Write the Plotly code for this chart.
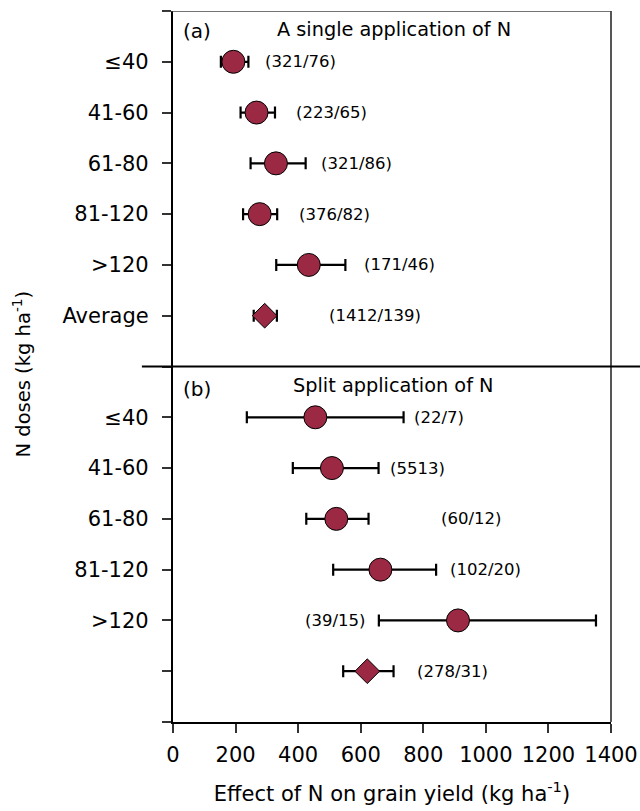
import plotly.graph_objects as go

# ---- data ----
categories = ['≤40', '41-60', '61-80', '81-120', '>120', 'Average']
bottom_tick_labels = ['≤40', '41-60', '61-80', '81-120', '>120', ' ']

single_mean = [193, 267, 329, 277, 434, 293]
single_low = [153, 216, 248, 224, 330, 258]
single_high = [241, 326, 424, 333, 551, 332]
single_n = ['(321/76)', '(223/65)', '(321/86)', '(376/82)', '(171/46)', '(1412/139)']
single_label_x = [287, 387, 467, 397, 605, 491]

split_mean = [455, 508, 522, 663, 911, 621]
split_low = [236, 383, 426, 512, 658, 544]
split_high = [737, 657, 625, 841, 1352, 705]
split_n = ['(22/7)', '(5513)', '(60/12)', '(102/20)', '(39/15)', '(278/31)']
split_label_x = [765, 688, 849, 878, 414, 774]

x_ticks = [0, 200, 400, 600, 800, 1000, 1200, 1400]

COLOR = '#9b2944'
FONT = 'DejaVu Sans'

top_rows = [i + 1 for i in range(len(categories))]
bot_rows = [i + 8 for i in range(len(categories))]
symbols = ['circle'] * 5 + ['diamond']
sizes = [23] * 5 + [19]

fig = go.Figure()


def add_panel(rows, mean, low, high):
    plus = [h - m for h, m in zip(high, mean)]
    minus = [m - l for m, l in zip(mean, low)]
    fig.add_trace(go.Scatter(
        x=mean, y=rows, mode='markers',
        marker=dict(color=COLOR, size=sizes, symbol=symbols, opacity=1,
                    line=dict(color='black', width=1)),
        error_x=dict(type='data', array=plus, arrayminus=minus,
                     color='black', thickness=2.2, width=6),
        showlegend=False, hoverinfo='skip'))


add_panel(top_rows, single_mean, single_low, single_high)
add_panel(bot_rows, split_mean, split_low, split_high)

for xs, rows, texts in [(single_label_x, top_rows, single_n),
                        (split_label_x, bot_rows, split_n)]:
    for x, y, t in zip(xs, rows, texts):
        fig.add_annotation(x=x, y=y, text=t, showarrow=False,
                           xanchor='left', yanchor='middle',
                           font=dict(family=FONT, size=16.5, color='black'))

# panel titles
fig.add_annotation(x=706, y=0.37, text='A single application of N', showarrow=False,
                   xanchor='center', yanchor='middle',
                   font=dict(family=FONT, size=19.3, color='black'))
fig.add_annotation(x=26, y=0.4, text='(a)', showarrow=False,
                   xanchor='left', yanchor='middle',
                   font=dict(family=FONT, size=20, color='black'))
fig.add_annotation(x=706, y=7.38, text='Split application of N', showarrow=False,
                   xanchor='center', yanchor='middle',
                   font=dict(family=FONT, size=19.3, color='black'))
fig.add_annotation(x=26, y=7.44, text='(b)', showarrow=False,
                   xanchor='left', yanchor='middle',
                   font=dict(family=FONT, size=20, color='black'))

# y axis title
fig.add_annotation(xref='paper', yref='paper', x=-0.345, y=0.49,
                   text='N doses (kg ha<sup>-1</sup>)', showarrow=False,
                   textangle=-90, xanchor='center', yanchor='middle',
                   font=dict(family=FONT, size=19.5, color='black'))

# frame lines: top & right (thin gray), divider (black)
fig.add_shape(type='line', xref='paper', yref='y', x0=-0.02, x1=1, y0=0, y1=0,
              line=dict(color='#444', width=1.5))
fig.add_shape(type='line', xref='paper', yref='y', x0=1, x1=1, y0=0, y1=14,
              line=dict(color='#444', width=1.8))
fig.add_shape(type='line', xref='paper', yref='y', x0=-0.071, x1=1.07, y0=7, y1=7,
              line=dict(color='black', width=2.2))

tickvals = [0] + top_rows + [7] + bot_rows + [14]
ticktext = [' '] + categories + [' '] + bottom_tick_labels + [' ']

fig.update_layout(
    width=640, height=811,
    margin=dict(l=173, r=29, t=11, b=89),
    plot_bgcolor='white', paper_bgcolor='white',
    font=dict(family=FONT, color='black'),
    xaxis=dict(range=[0, 1400], tickvals=x_ticks, ticks='outside', ticklen=9,
               tickwidth=1.5, tickcolor='#333', showgrid=False, zeroline=False,
               showline=True, linecolor='black', linewidth=2.2, automargin=False,
               ticklabelstandoff=4,
               tickfont=dict(family=FONT, size=21, color='black'),
               title=dict(text='Effect of N on grain yield (kg ha<sup>-1</sup>)',
                          font=dict(family=FONT, size=21, color='black'), standoff=20)),
    yaxis=dict(range=[14, 0], tickvals=tickvals, ticktext=ticktext, ticks='outside',
               ticklen=9, tickwidth=1.5, tickcolor='#333', showgrid=False,
               zeroline=False, showline=True, linecolor='black', linewidth=2.2,
               automargin=False,
               tickfont=dict(family=FONT, size=21, color='black'),
               ticklabelstandoff=9),
)

fig.write_html('out.html')
